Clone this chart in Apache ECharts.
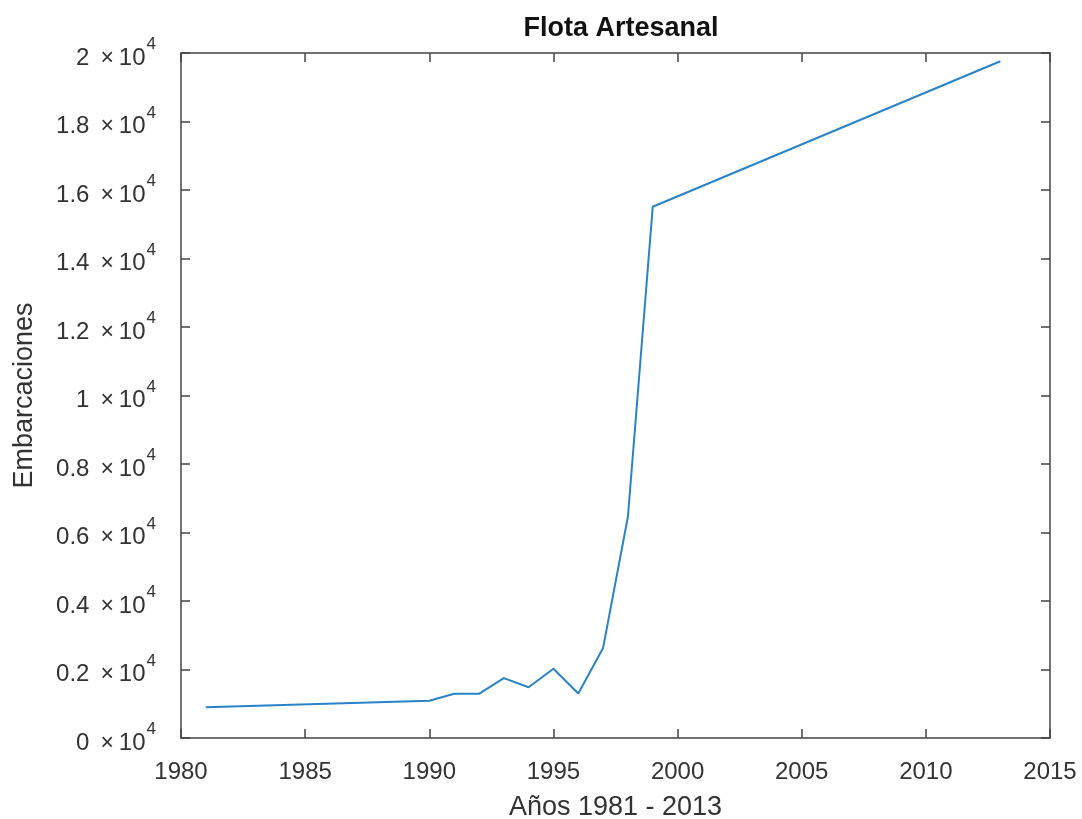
<!DOCTYPE html>
<html>
<head>
<meta charset="utf-8">
<script src="https://cdn.jsdelivr.net/npm/echarts@6/dist/echarts.min.js"></script>
<style>
  html, body { margin: 0; padding: 0; background: #fff; }
  #main { width: 1082px; height: 819px; }
</style>
</head>
<body>
<div id="main"></div>
<script>
// años y número de embarcaciones
var years = [1981, 1990, 1991, 1992, 1993, 1994, 1995, 1996, 1997, 1998, 1999, 2013];
var boats = [900, 1090, 1290, 1290, 1750, 1480, 2020, 1300, 2630, 6460, 15510, 19760];

var xTicks = { min: 1980, max: 2015, step: 5 };
var yTicks = { min: 0, max: 20000, step: 2000 };

var points = [];
for (var i = 0; i < years.length; i++) {
  points.push([years[i], boats[i]]);
}

var font = 'Liberation Sans, Arial, Helvetica, sans-serif';
var textColor = '#333';
var lineColor = '#444';

var chart = echarts.init(document.getElementById('main'));

function yLabel(v) {
  var n = +(v / 10000).toFixed(1);
  return '{a|' + n + '}{b|×}{c|10}{d|4}';
}

var option = {
  animation: false,
  backgroundColor: '#fff',
  title: {
    text: 'Flota Artesanal',
    left: 616,
    top: 10,
    textAlign: 'center',
    textStyle: { fontFamily: font, fontSize: 27, fontWeight: 'bold', color: '#111' }
  },
  grid: { left: 181, right: 32, top: 53, bottom: 81, outerBoundsMode: 'none', containLabel: false },
  xAxis: [{
    type: 'value',
    min: xTicks.min, max: xTicks.max, interval: xTicks.step,
    name: 'Años 1981 - 2013',
    nameLocation: 'middle',
    nameGap: 56,
    nameTextStyle: { fontFamily: font, fontSize: 27, color: textColor },
    axisLine: { show: true, onZero: false, lineStyle: { color: lineColor, width: 1.5 } },
    axisTick: { show: true, inside: true, length: 9, lineStyle: { color: lineColor, width: 1.5 } },
    axisLabel: { fontFamily: font, fontSize: 24, color: textColor, margin: 22,
      formatter: function (v) { return String(v); },
      showMinLabel: true, showMaxLabel: true },
    splitLine: { show: false }
  }, {
    type: 'value', position: 'top',
    min: xTicks.min, max: xTicks.max, interval: xTicks.step,
    axisLine: { show: true, onZero: false, lineStyle: { color: lineColor, width: 1.5 } },
    axisTick: { show: true, inside: true, length: 9, lineStyle: { color: lineColor, width: 1.5 } },
    axisLabel: { show: false },
    splitLine: { show: false }
  }],
  yAxis: [{
    type: 'value',
    min: yTicks.min, max: yTicks.max, interval: yTicks.step,
    name: 'Embarcaciones',
    nameLocation: 'middle',
    nameGap: 143,
    nameTextStyle: { fontFamily: font, fontSize: 27, color: textColor },
    axisLine: { show: true, onZero: false, lineStyle: { color: lineColor, width: 1.5 } },
    axisTick: { show: true, inside: true, length: 9, lineStyle: { color: lineColor, width: 1.5 } },
    axisLabel: {
      margin: 25,
      formatter: yLabel,
      rich: {
        a: { fontFamily: font, fontSize: 24, color: textColor, lineHeight: 34, verticalAlign: 'bottom' },
        b: { fontFamily: font, fontSize: 23, color: textColor, lineHeight: 34, verticalAlign: 'bottom', padding: [0, 5, 0, 11] },
        c: { fontFamily: font, fontSize: 24, color: textColor, lineHeight: 34, verticalAlign: 'bottom' },
        d: { fontFamily: font, fontSize: 17, color: textColor, lineHeight: 22, verticalAlign: 'top', padding: [0, 0, 0, 1] }
      }
    },
    splitLine: { show: false }
  }, {
    type: 'value', position: 'right',
    min: yTicks.min, max: yTicks.max, interval: yTicks.step,
    axisLine: { show: true, onZero: false, lineStyle: { color: lineColor, width: 1.5 } },
    axisTick: { show: true, inside: true, length: 9, lineStyle: { color: lineColor, width: 1.5 } },
    axisLabel: { show: false },
    splitLine: { show: false }
  }],
  series: [{
    type: 'line',
    data: points,
    showSymbol: false,
    symbol: 'none',
    lineStyle: { color: '#2a83c6', width: 2 }
  }]
};

chart.setOption(option);
</script>
</body>
</html>
